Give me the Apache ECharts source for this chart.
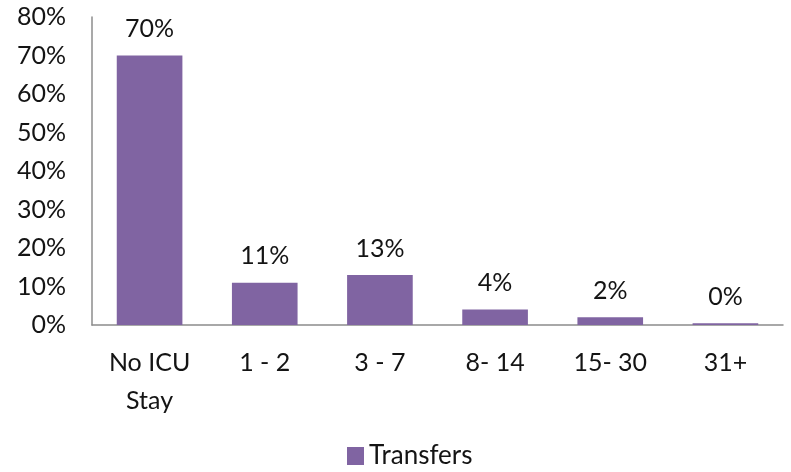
<!DOCTYPE html>
<html>
<head>
<meta charset="utf-8">
<script src="https://cdn.jsdelivr.net/npm/echarts@6/dist/echarts.min.js"></script>
<style>
  html, body { margin: 0; padding: 0; background: #fff; }
  #chart { width: 791px; height: 472px; }
</style>
</head>
<body>
<div id="chart"></div>
<script>
// ICU length-of-stay buckets and share of transfers (%)
const categories = ['No ICU\nStay', '1 - 2', '3 - 7', '8- 14', '15- 30', '31+'];
const transfers = [70, 11, 13, 4, 2, 0.45];
const yTicks = [0, 10, 20, 30, 40, 50, 60, 70, 80];

const FONT = 'Lato, "Open Sans", sans-serif';
const TEXT = '#141414';

const chart = echarts.init(document.getElementById('chart'));
chart.setOption({
  animation: false,
  grid: { left: 92, right: 8, top: 17, bottom: 147, containLabel: false },
  legend: {
    data: ['Transfers'],
    bottom: -2,
    left: 342,
    itemWidth: 17,
    itemHeight: 18,
    itemGap: 6,
    icon: 'rect',
    textStyle: { fontFamily: FONT, fontSize: 26, color: TEXT, padding: [0, 0, 0, 0] }
  },
  xAxis: {
    type: 'category',
    data: categories,
    axisLine: { lineStyle: { color: '#8c8c8c', width: 1.5 } },
    axisTick: { show: false },
    axisLabel: { fontFamily: FONT, fontSize: 25, color: TEXT, margin: 19, lineHeight: 38 }
  },
  yAxis: {
    type: 'value',
    min: yTicks[0],
    max: yTicks[yTicks.length - 1],
    interval: 10,
    axisLine: { show: true, lineStyle: { color: '#8c8c8c', width: 1.5 } },
    axisTick: { show: false },
    splitLine: { show: false },
    axisLabel: { fontFamily: FONT, fontSize: 25, color: TEXT, margin: 26, formatter: v => v + '%' }
  },
  series: [{
    name: 'Transfers',
    type: 'bar',
    data: transfers,
    barCategoryGap: '43%',
    itemStyle: { color: '#8064a2' },
    label: {
      show: true,
      position: 'top',
      distance: 14,
      fontFamily: FONT,
      fontSize: 25,
      color: TEXT,
      formatter: p => Math.round(p.value) + '%'
    }
  }]
});
</script>
</body>
</html>
